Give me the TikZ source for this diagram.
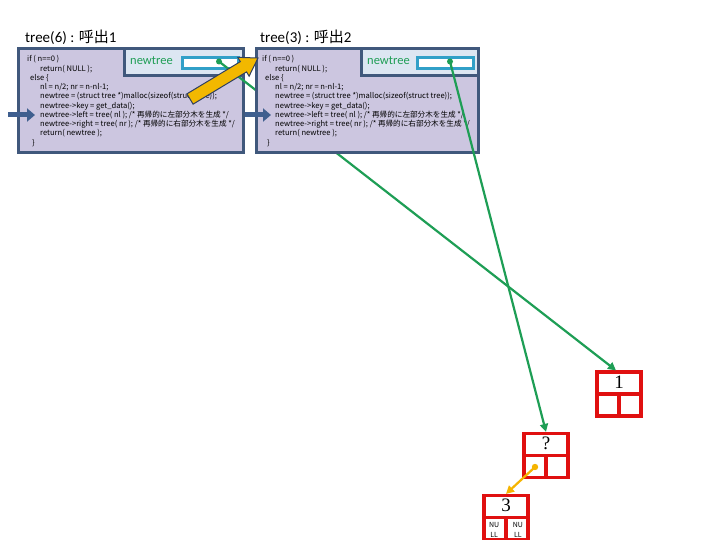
\documentclass[tikz,border=0pt]{standalone}
\usepackage{fontspec}
\newfontfamily\cjk{Noto Sans CJK JP}
\newfontfamily\calfont{Carlito}
\newfontfamily\lser{Liberation Serif}
\usetikzlibrary{arrows.meta,calc}
\definecolor{boxborder}{HTML}{40587C}
\definecolor{boxfill}{HTML}{CCC6E0}
\definecolor{nbfill}{HTML}{DCE6F2}
\definecolor{slotcol}{HTML}{31A0C8}
\definecolor{ptrgreen}{HTML}{1E9E55}
\definecolor{nodered}{HTML}{E01010}
\definecolor{ptrorange}{HTML}{F5B400}
\definecolor{bluearr}{HTML}{3F5F8F}
\definecolor{yel}{HTML}{F2B800}
\definecolor{yelline}{HTML}{2F3F60}
\tikzset{
  frame/.style={draw=boxborder, line width=3pt, fill=boxfill, inner sep=0, anchor=north west},
  nbox/.style={draw=boxborder, line width=3pt, fill=nbfill, inner sep=0, anchor=north west},
  slot/.style={draw=slotcol, line width=2.8pt, fill=white, inner sep=0, anchor=north west},
  codetext/.style={font=\cjk\fontsize{7.6}{9.25}\selectfont, align=left, anchor=north west, inner sep=0},
  titletext/.style={font=\fontsize{15}{17}\selectfont, anchor=west, inner sep=0},
  nt/.style={font=\calfont\fontsize{12.5}{14}\selectfont, text=ptrgreen, anchor=west, inner sep=0},
  tnode/.style={draw=nodered, line width=3.2pt, minimum width=44pt, minimum height=44pt, inner sep=0},
  redline/.style={draw=nodered, line width=3.2pt},
  tlabel/.style={font=\lser\fontsize{19}{21}\selectfont, inner sep=0},
  nulltext/.style={font=\cjk\fontsize{7}{10}\selectfont, align=center, inner sep=0},
  greenptr/.style={draw=ptrgreen, line width=2.2pt, -{Triangle[length=8pt,width=8pt]}},
  orangeptr/.style={draw=ptrorange, line width=2.2pt, -{Triangle[length=8pt,width=8pt]}},
  bluept/.style={draw=bluearr, line width=5pt, -{Triangle[length=8pt,width=13pt]}},
}
\newcommand{\codeA}{if ( n==0 )\\
\hspace*{13pt}return( NULL );\\
\hspace*{3pt}else \{\\
\hspace*{13pt}nl = n/2; nr = n-nl-1;\\
\hspace*{13pt}newtree = (struct tree *)malloc(sizeof(struct tree));\\
\hspace*{13pt}newtree->key = get\_data();\\
\hspace*{13pt}newtree->left = tree( nl ); /* 再帰的に左部分木を生成 */\\
\hspace*{13pt}newtree->right = tree( nr ); /* 再帰的に右部分木を生成 */\\
\hspace*{13pt}return( newtree );\\
\hspace*{5pt}\}}
\begin{document}
\begin{tikzpicture}[x=1pt,y=-1pt]
\useasboundingbox[fill=white] (0,0) rectangle (720,540);
% titles
\node[titletext] (title1) at (25,37) {\calfont tree(6) : \cjk 呼出\calfont 1};
\node[titletext] (title2) at (260,37) {\calfont tree(3) : \cjk 呼出\calfont 2};
% box 1
\node[frame, minimum width=225pt, minimum height=104pt] (f1) at (17,47) {};
\node[nbox, minimum width=119pt, minimum height=27pt] (nb1) at (123,47) {};
\node[slot, minimum width=56pt, minimum height=11pt] (s1) at (181,56) {};
\node[nt] (ntl1) at (130,61) {newtree};
\node[codetext] (code1) at (27,55.5) {\codeA};
\coordinate (d1) at (219,61.5);
\fill[ptrgreen] (d1) circle (3pt);
% tree nodes
\node[tnode] (t1) at (619,394) {};
\draw[redline] (t1.west) -- (t1.east) (t1.center) -- (t1.south);
\node[tlabel] (l1) at ($(t1.north)!0.5!(t1.center)$) {1};
\node[tnode] (t2) at (546,455.5) {};
\draw[redline] (t2.west) -- (t2.east) (t2.center) -- (t2.south);
\node[tlabel] (l2) at ($(t2.north)!0.5!(t2.center)$) {?};
\node[tnode] (t3) at (506,517.5) {};
\draw[redline] (t3.west) -- (t3.east) (t3.center) -- (t3.south);
\node[tlabel] (l3) at ($(t3.north)!0.5!(t3.center)$) {3};
\node[nulltext] (n3l) at ($(t3.south west)!0.5!(t3.center)+(0,1)$) {NU\\LL};
\node[nulltext] (n3r) at ($(t3.south east)!0.5!(t3.center)+(0,1)$) {NU\\LL};
% green pointer from box 1 (under box 2)
\draw[greenptr] (d1) -- ([xshift=-3pt]t1.north);
% box 2
\node[frame, minimum width=222pt, minimum height=104pt] (f2) at (255,47) {};
\node[nbox, minimum width=117pt, minimum height=27pt] (nb2) at (360,47) {};
\node[slot, minimum width=56pt, minimum height=11pt] (s2) at (416,56) {};
\node[nt] (ntl2) at (367,61) {newtree};
\node[codetext] (code2) at (262,55.5) {\codeA};
\coordinate (d2) at (450,61.5);
\fill[ptrgreen] (d2) circle (3pt);
\draw[greenptr] (d2) -- (t2.north);
% orange pointer
\coordinate (d3) at (535,467);
\fill[ptrorange] (d3) circle (3.2pt);
\draw[orangeptr] (d3) -- (t3.north);
% blue markers
\coordinate (ba1) at (8,115);
\coordinate (bb1) at (35,115);
\draw[bluept] (ba1) -- (bb1);
\coordinate (ba2) at (245,115);
\coordinate (bb2) at (271,115);
\draw[bluept] (ba2) -- (bb2);
% yellow call arrow
\coordinate (yT) at (190,99);
\coordinate (yH) at (258,58);
\coordinate (yB) at ($(yH)!17pt!(yT)$);
\filldraw[fill=yel, draw=yelline, line width=1pt, line join=miter]
  ($(yT)!6pt!90:(yH)$) -- ($(yB)!6pt!-90:(yT)$) -- ($(yB)!11pt!-90:(yT)$) -- (yH)
  -- ($(yB)!11pt!90:(yT)$) -- ($(yB)!6pt!90:(yT)$) -- ($(yT)!6pt!-90:(yH)$) -- cycle;
\end{tikzpicture}
\end{document}
